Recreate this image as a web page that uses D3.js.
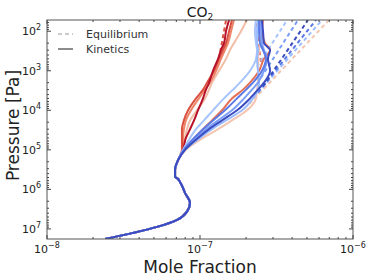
<!DOCTYPE html>
<html>
<head>
<meta charset="utf-8">
<script src="https://cdn.jsdelivr.net/npm/d3@7"></script>
<style>
  html, body { margin: 0; padding: 0; background: #fff; }
  svg { display: block; font-family: "DejaVu Sans", sans-serif; }
</style>
</head>
<body>
<svg id="chart" width="374" height="280"></svg>
<script>
// ---------------- data ----------------
const title = "CO";
const titleSub = "2";
const xLabel = "Mole Fraction";
const yLabel = "Pressure [Pa]";
const xTickExps = [-8, -7, -6];
const yTickExps = [2, 3, 4, 5, 6, 7];
const legendLabels = ["Equilibrium", "Kinetics"];

// shared deep-atmosphere profile (all runs overlap)
const pLower = [1.8e7, 1.26e7, 8.9e6, 5.9e6, 3.7e6, 2.2e6, 1.23e6, 6.5e5, 5.2e5, 4.9e5, 3.2e5, 1.8e5];
const xLower = [2.4e-8, 3.65e-8, 5.24e-8, 7.08e-8, 8.2e-8, 8.6e-8, 7.98e-8, 7.4e-8, 7.08e-8, 6.87e-8, 6.87e-8, 7.2e-8];

// upper-atmosphere pressure grid for kinetics runs
const pUpper = [1e5, 5e4, 3e4, 1.8e4, 1e4, 5e3, 3e3, 2e3, 1e3, 5e2, 3e2, 2e2, 1e2, 52];

// kinetics mole fractions (units of 1e-8) per run
const kinPale1  = [7.74, 7.98, 8.22, 8.61, 9.55, 10.79, 11.46, 11.97, 13.30, 14.79, 15.70, 16.67, 18.53, 20.28];
const kinPale2  = [8.09, 10.47, 13.12, 16.18, 20.28, 23.23, 23.60, 23.93, 23.93, 23.93, 24.32, 24.66, 24.66, 25.06];
const kinOrange = [7.74, 7.74, 7.85, 8.09, 8.73, 9.84, 10.79, 11.61, 12.74, 13.71, 14.55, 15.24, 15.96, 16.67];
const kinOrange2= [7.85, 9.27, 10.47, 11.97, 13.93, 16.18, 19.10, 21.23, 24.32, 26.18, 28.71, 26.61, 25.41, 25.82];
const kinRed    = [7.62, 7.62, 7.62, 7.85, 8.36, 9.42, 10.47, 11.12, 12.36, 13.30, 14.13, 14.79, 15.49, 16.18];
const kinDarkRed= [7.74, 8.09, 8.61, 9.14, 9.70, 10.47, 10.94, 11.46, 12.16, 13.12, 13.71, 14.35, 14.79, 15.49];
const kinLB1    = [7.74, 8.61, 9.42, 10.62, 12.16, 14.35, 16.44, 18.24, 21.23, 23.23, 23.60, 23.23, 22.86, 23.23];
const kinLB2    = [7.98, 10.00, 11.97, 14.79, 18.84, 22.18, 23.93, 24.32, 23.93, 23.60, 23.93, 23.60, 23.60, 23.93];
const kinMB     = [7.85, 9.42, 10.94, 13.12, 16.18, 19.41, 21.88, 23.93, 26.18, 27.42, 26.18, 25.41, 25.06, 25.06];
const kinB      = [7.85, 9.14, 10.47, 12.16, 14.55, 17.46, 20.00, 22.18, 25.41, 26.98, 25.82, 24.66, 24.32, 24.32];
const kinDB     = [7.98, 9.70, 11.46, 13.93, 17.46, 21.23, 23.93, 26.18, 28.71, 27.80, 28.71, 26.18, 25.82, 25.41];

// equilibrium branches where they separate from kinetics: [P start, P top], [x start, x top] (1e-8)
const eqPale2P  = [7000, 52],  eqPale2X  = [21.0, 69.7];
const eqLB2P    = [5000, 52],  eqLB2X    = [22.2, 62.7];
const eqBP      = [3500, 52],  eqBX      = [24.0, 57.3];
const eqDBP     = [2500, 52],  eqDBX     = [25.8, 50.8];
const eqMBP     = [1500, 52],  eqMBX     = [25.0, 43.7];
const eqLB1P    = [800, 52],   eqLB1X    = [23.6, 37.1];
const eqOrange2P= [600, 52],   eqOrange2X= [25.0, 23.0];
const eqRedP    = [500, 52],   eqRedX    = [13.3, 14.8];

const runNames  = ["pale1", "pale2", "orange", "orange2", "red", "darkred", "lb1", "lb2", "mb", "b", "db"];
const runColors = ["#f2bda5", "#f4c6b0", "#ee8468", "#e56f55", "#d9503f", "#b8122b", "#a7c4fd", "#9bbcff", "#7b9ff9", "#5b7ae5", "#3b4cc0"];

// ---------------- chart ----------------
const svg = d3.select("#chart");
const W = 374, H = 280;
const m = { left: 47, right: 21, top: 20, bottom: 41 };
const x = d3.scaleLog().domain([1e-8, 1e-6]).range([m.left, W - m.right]);
const y = d3.scaleLog().domain([52, 1.8e7]).range([m.top, H - m.bottom]);

const kin = {
  pale1: kinPale1, pale2: kinPale2, orange: kinOrange, orange2: kinOrange2, red: kinRed,
  darkred: kinDarkRed, lb1: kinLB1, lb2: kinLB2, mb: kinMB, b: kinB, db: kinDB
};
const eq = {
  pale2: [eqPale2P, eqPale2X], lb2: [eqLB2P, eqLB2X], b: [eqBP, eqBX], db: [eqDBP, eqDBX],
  mb: [eqMBP, eqMBX], lb1: [eqLB1P, eqLB1X], orange2: [eqOrange2P, eqOrange2X], red: [eqRedP, eqRedX]
};
const color = d3.scaleOrdinal().domain(runNames).range(runColors);

svg.append("clipPath").attr("id", "clip").append("rect")
  .attr("x", m.left).attr("y", m.top).attr("width", W - m.left - m.right).attr("height", H - m.top - m.bottom);
const plot = svg.append("g").attr("clip-path", "url(#clip)");

const line = d3.line().x(d => x(d[0])).y(d => y(d[1])).curve(d3.curveMonotoneY);
const lineLin = d3.line().x(d => x(d[0])).y(d => y(d[1]));

// equilibrium (dashed)
runNames.forEach(n => {
  if (!eq[n]) return;
  const [ps, xs] = eq[n];
  const pts = ps.map((p, i) => [xs[i] * 1e-8, p]);
  plot.append("path").attr("d", lineLin(pts))
    .attr("fill", "none").attr("stroke", color(n)).attr("stroke-width", 2)
    .attr("stroke-dasharray", "4,3");
});

// kinetics (solid)
runNames.forEach(n => {
  const pts = pLower.map((p, i) => [xLower[i], p])
    .concat(pUpper.map((p, i) => [kin[n][i] * 1e-8, p]));
  plot.append("path").attr("d", line(pts))
    .attr("fill", "none").attr("stroke", color(n)).attr("stroke-width", 2)
    .attr("stroke-linejoin", "round");
});

// frame
svg.append("rect").attr("x", m.left).attr("y", m.top)
  .attr("width", W - m.left - m.right).attr("height", H - m.top - m.bottom)
  .attr("fill", "none").attr("stroke", "#555").attr("stroke-width", 1);

// ticks
const tickCol = "#444";
function minorVals(lo, hi) {
  const out = [];
  for (let e = lo; e < hi; e++) for (let k = 2; k <= 9; k++) out.push(k * Math.pow(10, e));
  return out;
}
const xMajor = xTickExps.map(e => Math.pow(10, e));
const xMinor = minorVals(-8, -6);
const yMajor = yTickExps.map(e => Math.pow(10, e));
const yMinor = minorVals(1, 8).filter(v => v >= 52 && v <= 1.8e7);

const tg = svg.append("g").attr("stroke", tickCol).attr("stroke-width", 1);
const x0 = m.left, x1 = W - m.right, y0 = m.top, y1 = H - m.bottom;
xMajor.forEach(v => {
  tg.append("line").attr("x1", x(v)).attr("x2", x(v)).attr("y1", y1).attr("y2", y1 - 4);
  tg.append("line").attr("x1", x(v)).attr("x2", x(v)).attr("y1", y0).attr("y2", y0 + 4);
});
xMinor.forEach(v => {
  tg.append("line").attr("x1", x(v)).attr("x2", x(v)).attr("y1", y1).attr("y2", y1 - 2);
  tg.append("line").attr("x1", x(v)).attr("x2", x(v)).attr("y1", y0).attr("y2", y0 + 2);
});
yMajor.forEach(v => {
  tg.append("line").attr("y1", y(v)).attr("y2", y(v)).attr("x1", x0).attr("x2", x0 + 4);
  tg.append("line").attr("y1", y(v)).attr("y2", y(v)).attr("x1", x1).attr("x2", x1 - 4);
});
yMinor.forEach(v => {
  tg.append("line").attr("y1", y(v)).attr("y2", y(v)).attr("x1", x0).attr("x2", x0 + 2);
  tg.append("line").attr("y1", y(v)).attr("y2", y(v)).attr("x1", x1).attr("x2", x1 - 2);
});

// tick labels
const txtCol = "#222";
xTickExps.forEach(e => {
  const t = svg.append("text").attr("x", x(Math.pow(10, e))).attr("y", 253)
    .attr("text-anchor", "middle").attr("fill", txtCol).attr("font-size", 11);
  t.append("tspan").text("10");
  t.append("tspan").attr("dy", -5).attr("font-size", 8).text("\u2212" + Math.abs(e));
});
yTickExps.forEach(e => {
  const t = svg.append("text").attr("x", 41).attr("y", y(Math.pow(10, e)) + 4)
    .attr("text-anchor", "end").attr("fill", txtCol).attr("font-size", 11);
  t.append("tspan").text("10");
  t.append("tspan").attr("dy", -5).attr("font-size", 8).text(e);
});

// axis labels and title
svg.append("text").attr("x", (x0 + x1) / 2).attr("y", 273).attr("text-anchor", "middle")
  .attr("font-size", 17).attr("fill", txtCol).text(xLabel);
svg.append("text").attr("transform", `translate(19,${(y0 + y1) / 2 - 4}) rotate(-90)`)
  .attr("text-anchor", "middle").attr("font-size", 17).attr("fill", txtCol).text(yLabel);
const tt = svg.append("text").attr("x", (x0 + x1) / 2).attr("y", 17).attr("text-anchor", "middle")
  .attr("font-size", 14).attr("fill", txtCol);
tt.append("tspan").text(title);
tt.append("tspan").attr("dy", 3).attr("font-size", 9).text(titleSub);

// legend
const lg = svg.append("g");
lg.append("line").attr("x1", 58).attr("x2", 73).attr("y1", 34).attr("y2", 34)
  .attr("stroke", "#bbb").attr("stroke-width", 1.5).attr("stroke-dasharray", "4,3");
lg.append("line").attr("x1", 58).attr("x2", 73).attr("y1", 49).attr("y2", 49)
  .attr("stroke", "#666").attr("stroke-width", 1.5);
lg.append("text").attr("x", 86).attr("y", 38).attr("font-size", 11).attr("fill", "#333").text(legendLabels[0]);
lg.append("text").attr("x", 86).attr("y", 53).attr("font-size", 11).attr("fill", "#333").text(legendLabels[1]);
</script>
</body>
</html>
